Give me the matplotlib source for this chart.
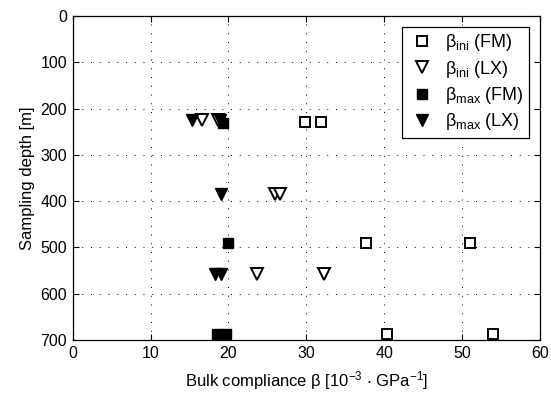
import numpy as np
import matplotlib
matplotlib.use("Agg")
from matplotlib import pyplot as plt

plt.rcParams['font.family'] = ['Liberation Sans', 'DejaVu Sans']
plt.rcParams['mathtext.fontset'] = 'custom'
plt.rcParams['mathtext.rm'] = 'Liberation Sans'
plt.rcParams['mathtext.it'] = 'Liberation Sans'
plt.rcParams['mathtext.default'] = 'regular'

# bulk compliance [1e-3 / GPa] vs. sampling depth [m]
ini_fm_beta = [29.8, 31.9, 37.7, 51.0, 40.3, 54.0]
ini_fm_depth = [230, 230, 490, 490, 688, 688]

ini_lx_beta = [16.6, 18.7, 26.0, 26.6, 23.6, 32.3]
ini_lx_depth = [225, 225, 385, 385, 558, 558]

max_fm_beta = [19.3, 20.0, 18.5, 19.7]
max_fm_depth = [232, 490, 688, 688]

max_lx_beta = [15.3, 18.9, 19.0, 18.3, 19.1]
max_lx_depth = [225, 225, 385, 558, 558]

fig = plt.figure(figsize=(5.51, 3.99), dpi=100)
ax = fig.add_axes([0.132, 0.148, 0.848, 0.812])

ms = 6.5
ax.plot(ini_fm_beta, ini_fm_depth, 's', mfc='white', mec='black', mew=1.4, ms=ms,
        label=r'$\beta_{ini}$ (FM)', linestyle='none')
ax.plot(ini_lx_beta, ini_lx_depth, 'v', mfc='white', mec='black', mew=1.4, ms=ms + 2.5,
        label=r'$\beta_{ini}$ (LX)', linestyle='none')
ax.plot(max_fm_beta, max_fm_depth, 's', mfc='black', mec='black', ms=ms,
        label=r'$\beta_{max}$ (FM)', linestyle='none')
ax.plot(max_lx_beta, max_lx_depth, 'v', mfc='black', mec='black', ms=ms + 2.5,
        label=r'$\beta_{max}$ (LX)', linestyle='none')

ax.set_xlim(0, 60)
ax.set_ylim(700, 0)
ax.set_xticks(np.arange(0, 61, 10))
ax.set_yticks(np.arange(0, 701, 100))
ax.grid(True, linestyle=(0, (1, 8)), color='black', linewidth=0.7)
ax.tick_params(direction='in', top=True, right=True, labelsize=11.5, length=4, pad=4)
for s in ax.spines.values():
    s.set_linewidth(0.9)

ax.set_xlabel(r'Bulk compliance $\beta$ [10$^{-3}$ $\cdot$ GPa$^{-1}$]', fontsize=12, labelpad=6)
ax.set_ylabel('Sampling depth [m]', fontsize=12, labelpad=4)

leg = ax.legend(loc='upper right', fontsize=13, fancybox=False, framealpha=1,
                edgecolor='black', borderaxespad=0.6, handletextpad=0.5,
                labelspacing=0.3, handlelength=1.6, borderpad=0.3)
leg.get_frame().set_linewidth(0.9)

fig.savefig('out.png', dpi=100)
